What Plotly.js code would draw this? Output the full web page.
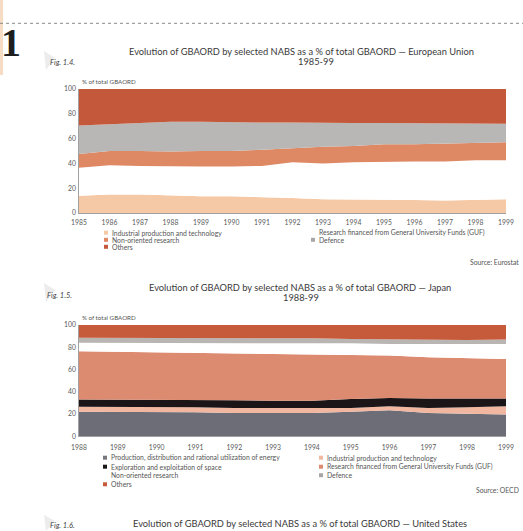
<!DOCTYPE html>
<html>
<head>
<meta charset="utf-8">
<script src="https://cdn.plot.ly/plotly-3.0.1.min.js"></script>
<style>html,body{margin:0;padding:0;background:#fff;}#chart{width:523px;height:531px;}</style>
</head>
<body>
<div id="chart"></div>
<script>
// ---------- DATA ----------
// Fig 1.4 European Union, 1985-99 (shares of total GBAORD, %)
var euYears = [1985,1986,1987,1988,1989,1990,1991,1992,1993,1994,1995,1996,1997,1998,1999];
var euIndustrial  = [14, 15, 15, 14, 13.5, 13.5, 13, 12, 11, 11, 10.5, 10.5, 10, 10.5, 11];
var euGUF         = [22.5, 23.5, 23, 23.5, 24, 24, 25, 29, 29, 30, 31, 31, 31.5, 32, 31.5];
var euNonOriented = [11, 11.5, 12, 12, 12.5, 12.5, 13, 11.5, 13.5, 13, 14, 14, 14.5, 14, 14.5];
var euDefence     = [23, 21.5, 22.5, 24, 23.5, 23, 22, 20.5, 19, 18.5, 17, 17, 16.5, 15.5, 15];
var euOthers      = [29.5, 28.5, 27.5, 26.5, 26.5, 27, 27, 27, 27.5, 27.5, 27.5, 27.5, 27.5, 28, 28];

// Fig 1.5 Japan, 1988-99
var jpYears = [1988,1989,1990,1991,1992,1993,1994,1995,1996,1997,1998,1999];
var jpEnergy      = [22, 22, 21.5, 21.5, 21, 21, 21, 22, 23.5, 21, 20.5, 19.5];
var jpIndustrial  = [4.5, 4.5, 4.5, 4.5, 4.5, 4.5, 4.5, 3.5, 3.5, 4.5, 5.5, 7.5];
var jpSpace       = [6.5, 6.5, 6.5, 6.5, 7, 6.5, 6.5, 8, 7.5, 8.5, 8, 7];
var jpGUF         = [43.5, 43, 43, 42.5, 42.5, 42, 41.5, 39.5, 38, 37, 36, 35.5];
var jpNonOriented = [7.5, 8, 8.5, 9, 8.5, 9.5, 10, 10.5, 10.5, 12, 13, 13.5];
var jpDefence     = [4.5, 4.5, 4.5, 4.5, 4.5, 4.5, 4.5, 4, 4, 3.5, 3.5, 4];
var jpOthers      = [11.5, 11.5, 11.5, 11.5, 12, 12, 12, 12.5, 13, 13.5, 13.5, 13];

var yTicks = [0, 20, 40, 60, 80, 100];

var euLabels = {
  industrial: 'Industrial production and technology',
  guf: 'Research financed from General University Funds (GUF)',
  nonOriented: 'Non-oriented research',
  defence: 'Defence',
  others: 'Others'
};
var jpLabels = {
  energy: 'Production, distribution and rational utilization of energy',
  industrial: 'Industrial production and technology',
  space: 'Exploration and exploitation of space',
  guf: 'Research financed from General University Funds (GUF)',
  nonOriented: 'Non-oriented research',
  defence: 'Defence',
  others: 'Others'
};

var titles = {
  eu1: 'Evolution of GBAORD by selected NABS as a % of total GBAORD \u2014 European Union',
  eu2: '1985-99',
  jp1: 'Evolution of GBAORD by selected NABS as a % of total GBAORD \u2014 Japan',
  jp2: '1988-99',
  us1: 'Evolution of GBAORD by selected NABS as a % of total GBAORD \u2014 United States'
};

// ---------- STYLE ----------
var C = {
  euInd: '#f6c9a6', euGUF: '#ffffff', euNO: '#de8864', euDef: '#b9b7b5', euOth: '#c3583a',
  jpEn: '#6d6d78', jpInd: '#f2b7a0', jpSp: '#1b1517', jpGUF: '#dc8a70', jpNO: '#ffffff', jpDef: '#b8b5b3', jpOth: '#c65b3c'
};
var W = 523, H = 531;
function px(x){ return x / W; }
function py(y){ return 1 - y / H; }
var FONT = 'Lato, "Open Sans", sans-serif';

function area(x, y, name, color, xa, ya){
  return {x: x, y: y, name: name, type: 'scatter', mode: 'lines',
    stackgroup: ya, line: {width: 0, color: color}, fillcolor: color,
    xaxis: xa, yaxis: ya, showlegend: false, hoverinfo: 'skip'};
}

var data = [
  area(euYears, euIndustrial, euLabels.industrial, C.euInd, 'x', 'y'),
  area(euYears, euGUF, euLabels.guf, C.euGUF, 'x', 'y'),
  area(euYears, euNonOriented, euLabels.nonOriented, C.euNO, 'x', 'y'),
  area(euYears, euDefence, euLabels.defence, C.euDef, 'x', 'y'),
  area(euYears, euOthers, euLabels.others, C.euOth, 'x', 'y'),
  area(jpYears, jpEnergy, jpLabels.energy, C.jpEn, 'x2', 'y2'),
  area(jpYears, jpIndustrial, jpLabels.industrial, C.jpInd, 'x2', 'y2'),
  area(jpYears, jpSpace, jpLabels.space, C.jpSp, 'x2', 'y2'),
  area(jpYears, jpGUF, jpLabels.guf, C.jpGUF, 'x2', 'y2'),
  area(jpYears, jpNonOriented, jpLabels.nonOriented, C.jpNO, 'x2', 'y2'),
  area(jpYears, jpDefence, jpLabels.defence, C.jpDef, 'x2', 'y2'),
  area(jpYears, jpOthers, jpLabels.others, C.jpOth, 'x2', 'y2')
];

function xAxis(years, anchor, standoff){
  return {domain: [px(79), px(506)], range: [years[0], years[years.length-1]],
    tickvals: years, ticktext: years.map(String), showgrid: false, zeroline: false,
    showline: true, linecolor: '#8a8a8a', linewidth: 0.8, ticks: '', ticklen: 0,
    ticklabelstandoff: standoff,
    tickfont: {family: FONT, size: 6.8, color: '#5a5a5a'}, anchor: anchor, fixedrange: true};
}
function yAxis(top, bottom, anchor){
  return {domain: [py(bottom), py(top)], range: [0, 100], tickvals: yTicks,
    showgrid: false, zeroline: false, showline: true, linecolor: '#8a8a8a', linewidth: 0.8,
    ticks: '', ticklabelstandoff: 1,
    tickfont: {family: FONT, size: 6.8, color: '#5a5a5a'}, anchor: anchor, fixedrange: true};
}

var ann = [];
var shapes = [];
function txt(x, y, t, size, opts){
  var a = {xref: 'paper', yref: 'paper', x: px(x), y: py(y), text: t, showarrow: false,
    xanchor: 'left', yanchor: 'middle', font: {family: FONT, size: size, color: '#555'}};
  if (opts) for (var k in opts) { if (k === 'font') { for (var f in opts.font) a.font[f] = opts.font[f]; } else a[k] = opts[k]; }
  ann.push(a);
}
function swatch(x, y, color){
  shapes.push({type: 'rect', xref: 'paper', yref: 'paper', x0: px(x-2), x1: px(x+2), y0: py(y+2), y1: py(y-2),
    fillcolor: color, line: {width: 0}});
}
function legendItem(x, y, label, color){
  swatch(x, y, color);
  txt(x + 4, y, label, 6.8);
}

// page decorations
shapes.push({type: 'rect', xref: 'paper', yref: 'paper', x0: 0, x1: px(3), y0: py(75), y1: 1, fillcolor: '#f7dcc4', line: {width: 0}});
shapes.push({type: 'line', xref: 'paper', yref: 'paper', x0: 0, x1: 1, y0: py(23.3), y1: py(23.3), line: {color: '#8a8a8a', width: 1, dash: 'dot'}});
shapes.push({type: 'path', xref: 'paper', yref: 'paper', path: 'M ' + px(44) + ' ' + py(51) + ' L ' + px(55) + ' ' + py(58) + ' L ' + px(46) + ' ' + py(70) + ' Z', fillcolor: '#ececec', line: {width: 0}});
shapes.push({type: 'path', xref: 'paper', yref: 'paper', path: 'M ' + px(44) + ' ' + py(283) + ' L ' + px(55) + ' ' + py(290) + ' L ' + px(46) + ' ' + py(302) + ' Z', fillcolor: '#ececec', line: {width: 0}});
shapes.push({type: 'path', xref: 'paper', yref: 'paper', path: 'M ' + px(44) + ' ' + py(515) + ' L ' + px(55) + ' ' + py(521) + ' L ' + px(46) + ' ' + py(531) + ' Z', fillcolor: '#ececec', line: {width: 0}});

txt(0, 43, '1', 40, {xanchor: 'left', borderpad: 0, font: {family: '"Liberation Serif", serif', color: '#1e1e1e', weight: 'bold'}});

// Fig 1.4
txt(48, 62, 'Fig. 1.4.', 7.5, {font: {style: 'italic', color: '#444'}});
txt(301, 51, titles.eu1, 9.3, {xanchor: 'center', font: {color: '#3a3a3a'}});
txt(316, 61.5, titles.eu2, 9.3, {xanchor: 'center', font: {color: '#3a3a3a'}});
txt(80, 81.5, '% of total GBAORD', 6.2);
legendItem(106, 232.7, euLabels.industrial, C.euInd);
legendItem(106, 239.8, euLabels.nonOriented, C.euNO);
legendItem(106, 246.8, euLabels.others, C.euOth);
legendItem(313, 232.7, euLabels.guf, C.euGUF);
legendItem(313, 239.8, euLabels.defence, '#a9a7a5');
txt(521, 261.7, 'Source: Eurostat', 6.8, {xanchor: 'right'});

// Fig 1.5
txt(45, 295, 'Fig. 1.5.', 7.5, {font: {style: 'italic', color: '#444'}});
txt(300, 287.3, titles.jp1, 9.3, {xanchor: 'center', font: {color: '#3a3a3a'}});
txt(301.3, 297, titles.jp2, 9.3, {xanchor: 'center', font: {color: '#3a3a3a'}});
txt(80, 317.7, '% of total GBAORD', 6.2);
legendItem(105, 457.7, jpLabels.energy, '#777780');
legendItem(105, 466.7, jpLabels.space, C.jpSp);
legendItem(105, 475.2, jpLabels.nonOriented, C.jpNO);
legendItem(105, 484.3, jpLabels.others, C.jpOth);
legendItem(321, 457.7, jpLabels.industrial, C.jpInd);
legendItem(321, 466.7, jpLabels.guf, C.jpGUF);
legendItem(321, 475.2, jpLabels.defence, '#a9a7a5');
txt(521, 490, 'Source: OECD', 6.8, {xanchor: 'right'});

// Fig 1.6 (at page bottom)
txt(48, 525, 'Fig. 1.6.', 7.5, {font: {style: 'italic', color: '#444'}});
txt(300, 523.5, titles.us1, 9.3, {xanchor: 'center', font: {color: '#3a3a3a'}});

var layout = {
  width: W, height: H, margin: {l: 0, r: 0, t: 0, b: 0, pad: 0},
  paper_bgcolor: '#ffffff', plot_bgcolor: '#ffffff', showlegend: false,
  font: {family: FONT},
  xaxis: xAxis(euYears, 'y', 3),
  yaxis: yAxis(89, 213, 'x'),
  xaxis2: xAxis(jpYears, 'y2', 5),
  yaxis2: yAxis(325, 436.3, 'x2'),
  annotations: ann, shapes: shapes
};

Plotly.newPlot('chart', data, layout, {displayModeBar: false, staticPlot: true});
</script>
</body>
</html>
